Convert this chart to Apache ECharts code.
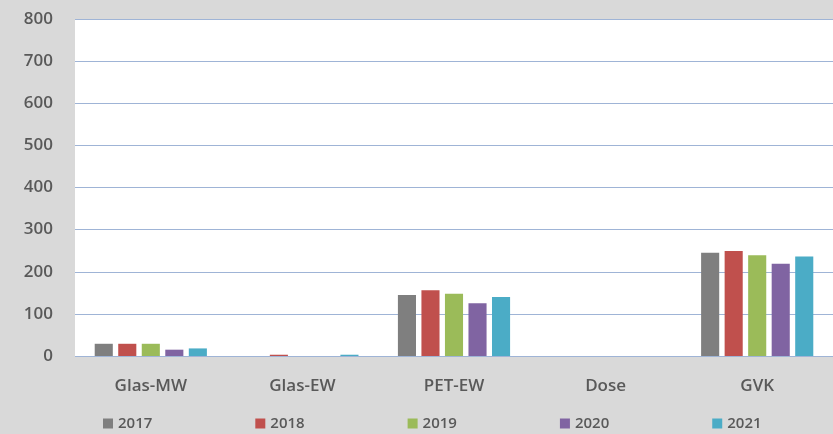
<!DOCTYPE html>
<html>
<head>
  <meta charset="UTF-8">
  <title>Mengen</title>
  <script src="https://cdn.jsdelivr.net/npm/echarts@6/dist/echarts.min.js"></script>
  <style>
    html, body { margin: 0; padding: 0; background: #d9d9d9; }
  </style>
</head>
<body>
  <div id="chart" style="width: 833px; height: 434px"></div>
  <script>
    // Kategorien und Werte je Jahr
    var categories = ['Glas-MW', 'Glas-EW', 'PET-EW', 'Dose', 'GVK'];
    var years = ['2017', '2018', '2019', '2020', '2021'];
    var v2017 = [29, 0, 145, 0, 245];
    var v2018 = [29, 3, 156, 0, 249];
    var v2019 = [29, 0, 148, 0, 239];
    var v2020 = [15, 0, 125, 0, 219];
    var v2021 = [18, 3, 140, 0, 236];
    var colors = ['#7f7f7f', '#c0504d', '#9bbb59', '#8064a2', '#4bacc6'];

    var allValues = [v2017, v2018, v2019, v2020, v2021];
    var myChart = echarts.init(document.getElementById('chart'));

    var series = years.map(function (y, i) {
      return {
        name: y,
        type: 'bar',
        data: allValues[i],
        barGap: '30%',
        barCategoryGap: '26%',
        itemStyle: {
          color: colors[i]
        }
      };
    });

    var option = {
      backgroundColor: '#d9d9d9',
      animation: false,
      grid: {
        left: 75,
        right: -2,
        top: 19,
        bottom: 78,
        show: true,
        backgroundColor: '#ffffff',
        borderWidth: 0
      },
      legend: {
        data: years,
        left: 98,
        top: 411,
        itemWidth: 10,
        itemHeight: 10,
        itemGap: 103,
        icon: 'rect',
        textStyle: {
          color: '#595959',
          fontSize: 15,
          fontFamily: 'Open Sans',
          fontWeight: 600
        }
      },
      xAxis: {
        type: 'category',
        data: categories,
        axisLine: { show: false },
        axisTick: { show: false },
        axisLabel: {
          color: '#595959',
          fontSize: 17,
          fontFamily: 'Open Sans',
          fontWeight: 600,
          margin: 22
        }
      },
      yAxis: {
        type: 'value',
        min: 0,
        max: 800,
        interval: 100,
        axisLine: { show: false },
        axisTick: { show: false },
        axisLabel: {
          color: '#595959',
          fontSize: 17,
          fontFamily: 'Open Sans',
          fontWeight: 600,
          margin: 22
        },
        splitLine: {
          lineStyle: { color: '#9fb4d6', width: 1 }
        }
      },
      series: series
    };
    myChart.setOption(option);
  </script>
</body>
</html>
